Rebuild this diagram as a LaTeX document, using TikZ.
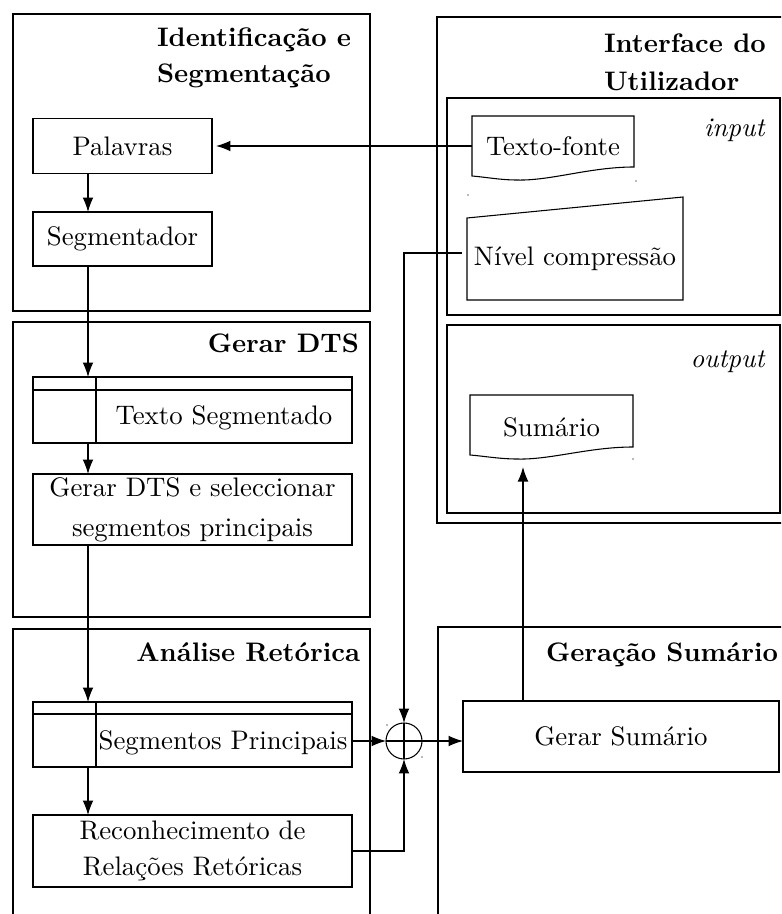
\documentclass[tikz,border=0pt]{standalone}
\usetikzlibrary{arrows.meta,calc}
\newcommand\pxu{0.3731pt}
\tikzset{
  frame/.style={draw=black, line width=0.4pt},
  proc/.style={draw, rectangle, inner sep=0pt, outer sep=0pt},
  shapetext/.style={rectangle, inner sep=0pt, outer sep=0pt},
  ttl/.style={font=\bfseries, inner sep=0pt, outer sep=0pt},
  tag/.style={font=\itshape, inner sep=0pt, anchor=base east},
  arr/.style={-{Latex[length=5.4pt,width=4pt]}},
  speck/.style={fill=black!55},
}
\begin{document}
\begin{tikzpicture}[x=0.3731pt,y=-0.3731pt]
\useasboundingbox (0,0) rectangle (781,914);
\clip (0,0) rectangle (781,914);

% group frames
\draw[frame] (13,14) rectangle (370,311);
\draw[frame] (13,322) rectangle (370,617);
\draw[frame] (13,629) rectangle (370,940);
\draw[frame] (437,17) rectangle (800,523);
\draw[frame] (447,98) rectangle (780,315);
\draw[frame] (447,325) rectangle (780,513);
\draw[frame] (438,627) rectangle (800,940);

% group titles (base anchor of a two-line node sits on the last line)
\node[ttl, anchor=base west, align=left] (t1) at (157,83) {Identificação e\\[1.7pt]Segmentação};
\node[ttl, anchor=base west, align=left] (t2) at (604,91) {Interface do\\[2.5pt]Utilizador};
\node[ttl, anchor=base east] (t3) at (359,352) {Gerar DTS};
\node[ttl, anchor=base east] (t4) at (360,661) {Análise Retórica};
\node[ttl, anchor=base east] (t5) at (778,661) {Geração Sumário};
\node[tag] (tin) at (765,137) {input};
\node[tag] (tout) at (765,368) {output};

% columns for the vertical flows
\coordinate (colA) at (88,0);
\coordinate (colB) at (523,0);

% process boxes
\node[proc, minimum width=179*\pxu, minimum height=55*\pxu] (pal) at (122.5,146) {Palavras};
\node[proc, minimum width=179*\pxu, minimum height=54*\pxu] (seg) at (122.5,239) {Segmentador};

% data store: Texto Segmentado
\node[proc, minimum width=319*\pxu, minimum height=66*\pxu] (ts) at (192.5,410) {};
\draw ($(ts.north west)+(0,13)$) -- ($(ts.north east)+(0,13)$);
\draw ($(ts.north west)+(63,0)$) -- ($(ts.south west)+(63,0)$);
\node[shapetext] (tstxt) at (224,418) {Texto Segmentado};

\node[proc, minimum width=319*\pxu, minimum height=71*\pxu, align=center] (gd) at (192.5,509.5)
  {Gerar DTS e seleccionar\\[3pt]segmentos principais};

% data store: Segmentos Principais
\node[proc, minimum width=319*\pxu, minimum height=65*\pxu] (sp) at (192.5,734.5) {};
\draw ($(sp.north west)+(0,12)$) -- ($(sp.north east)+(0,12)$);
\draw ($(sp.north west)+(63,0)$) -- ($(sp.south west)+(63,0)$);
\node[shapetext] (sptxt) at (223,743) {Segmentos Principais};

\node[proc, minimum width=319*\pxu, minimum height=72*\pxu, align=center] (rr) at (192.5,851)
  {Reconhecimento de\\[1.4pt]Relações Retóricas};

% summing junction
\node[draw, circle, minimum size=36*\pxu, inner sep=0pt, outer sep=0pt] (plus) at (404,741) {};
\draw (plus.north) -- (plus.south) (plus.west) -- (plus.east);

\node[proc, minimum width=316*\pxu, minimum height=71*\pxu] (gs) at (621,736.5) {Gerar Sumário};

% document: Texto-fonte
\node[shapetext, minimum width=162*\pxu, minimum height=60*\pxu] (tf) at (553,146) {Texto-fonte};
\draw (tf.north west) -- (tf.north east) -- ($(tf.north east)+(0,51)$)
  .. controls ($(tf.north east)+(-44,51)$) and ($(tf.north west)+(78,65)$) .. ($(tf.north west)+(45,64)$)
  .. controls ($(tf.north west)+(28,64)$) and ($(tf.north west)+(13,61)$) .. ($(tf.north west)+(0,60)$)
  -- cycle;

% manual input: Nivel compressao
\node[shapetext, minimum width=216*\pxu, minimum height=82*\pxu] (nc) at (575,259) {Nível compressão};
\draw (nc.south west) -- (nc.south east) -- ($(nc.north east)+(0,-21)$) -- (nc.north west) -- cycle;

% document: Sumario
\node[shapetext, minimum width=163*\pxu, minimum height=64*\pxu] (sum) at (551.5,427) {Sumário};
\draw (sum.north west) -- (sum.north east) -- ($(sum.north east)+(0,52)$)
  .. controls ($(sum.north east)+(-44,52)$) and ($(sum.north west)+(80,65)$) .. ($(sum.north west)+(47,64)$)
  .. controls ($(sum.north west)+(30,64)$) and ($(sum.north west)+(13,61)$) .. ($(sum.north west)+(0,60)$)
  -- cycle;

% small specks at shape corners
\fill[speck] (636,181) circle (0.35pt);
\fill[speck] (468,195) circle (0.35pt);
\fill[speck] (633,459) circle (0.35pt);
\fill[speck] (387,725) circle (0.35pt);
\fill[speck] (422,757) circle (0.35pt);

% connectors
\draw[arr, shorten >=1.5pt] (tf.west) -- (pal.east);
\draw[arr] (pal.south -| colA) -- (seg.north -| colA);
\draw[arr] (seg.south -| colA) -- (ts.north -| colA);
\draw[arr] (ts.south -| colA) -- (gd.north -| colA);
\draw[arr] (gd.south -| colA) -- (sp.north -| colA);
\draw[arr] (sp.south -| colA) -- (rr.north -| colA);
\draw[arr] (sp.east |- plus.west) -- (plus.west);
\draw[arr] (rr.east) -| (plus.south);
\draw[arr] ([shift={(-5,-6)}]nc.west) -| (plus.north);
\draw[arr] (plus.east) -- (gs.west |- plus.east);
\draw[arr, shorten >=3pt] (gs.north -| colB) -- (sum.south -| colB);
\end{tikzpicture}
\end{document}
